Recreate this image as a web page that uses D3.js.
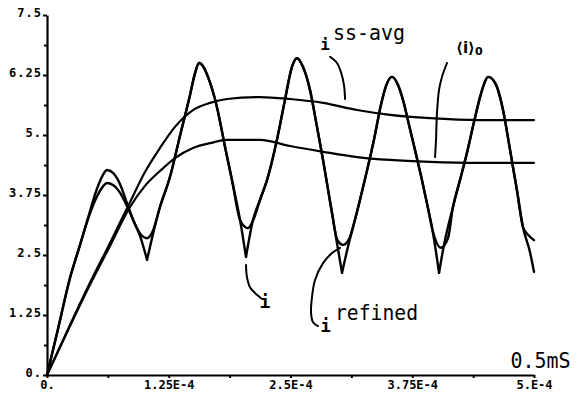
<!DOCTYPE html>
<html><head><meta charset="utf-8">
<script src="https://cdn.jsdelivr.net/npm/d3@7"></script>
<style>
html,body{margin:0;padding:0;background:#fff;}
svg{display:block;}
</style></head><body>
<svg id="chart" width="577" height="396"></svg>
<script>
// ---- axes (time in microseconds) ----
const xTickValues = [0, 125, 250, 375, 500];
const xTickLabels = ["0.", "1.25E-4", "2.5E-4", "3.75E-4", "5.E-4"];
const xMinorTicks = [62.5, 187.5, 312.5, 437.5];
const yTickValues = [0, 1.25, 2.5, 3.75, 5, 6.25, 7.5];
const yTickLabels = ["0.", "1.25", "2.5", "3.75", "5.", "6.25", "7.5"];
const yMinorTicks = [0.625, 1.875, 3.125, 4.375, 5.625, 6.875];

// ---- series: i (exact) ----
const tI = [0,11.3,23.6,33.9,42.1,51.3,57.5,61.6,67.8,74.9,82.1,89.3,95.5,102.7,107.8,116.0,126.3,136.5,146.8,152.0,156.1,161.2,165.3,174.5,182.8,189.9,198.2,204.3,211.5,218.7,225.9,236.1,244.3,251.5,256.7,262.8,270.0,277.2,283.4,292.6,297.7,302.9,309.0,318.3,327.5,335.7,342.9,348.0,354.2,360.4,365.5,371.7,377.8,384.0,390.1,396.3,402.5,407.6,416.8,424.0,431.2,438.4,444.6,448.7,452.8,457.9,462.0,468.2,475.4,482.5,488.7,495.9,500.0];
const vI = [0,0.96,2.02,2.71,3.27,3.88,4.17,4.27,4.21,3.98,3.58,3.19,2.90,2.40,2.85,3.50,4.13,4.98,5.83,6.29,6.50,6.40,6.21,5.58,4.75,4.06,3.23,2.46,3.23,3.65,4.06,4.90,5.73,6.42,6.60,6.42,5.94,5.17,4.48,3.38,2.75,2.13,2.67,3.40,4.17,4.90,5.63,6.02,6.21,6.04,5.73,5.21,4.69,4.15,3.58,2.96,2.13,2.71,3.50,4.06,4.63,5.27,5.79,6.06,6.21,6.15,6.00,5.52,4.69,3.85,3.08,2.56,2.15];

// ---- series: i refined ----
const tR = [0,11.3,23.6,33.9,42.1,51.3,57.5,61.6,67.8,74.9,82.1,89.3,95.5,102.7,107.8,116.0,126.3,136.5,146.8,152.0,156.1,161.2,165.3,174.5,182.8,189.9,198.2,206.3,212.6,218.7,225.9,236.1,244.3,251.5,256.7,262.8,270.0,277.2,283.4,292.6,297.7,303.9,310.1,318.3,327.5,335.7,342.9,348.0,354.2,360.4,365.5,371.7,377.8,384.0,390.1,396.3,404.5,411.7,416.8,424.0,431.2,438.4,444.6,448.7,452.8,457.9,462.0,468.2,475.4,482.5,488.7,494.9,500.0];
const vR = [0,0.96,2.02,2.71,3.25,3.72,3.93,4.00,3.96,3.80,3.52,3.19,2.95,2.85,2.96,3.50,4.13,4.98,5.83,6.29,6.50,6.40,6.21,5.58,4.75,4.06,3.23,3.06,3.27,3.65,4.06,4.90,5.73,6.42,6.60,6.42,5.94,5.17,4.48,3.38,2.83,2.71,2.83,3.40,4.17,4.90,5.63,6.02,6.21,6.04,5.73,5.21,4.69,4.15,3.58,2.98,2.65,2.85,3.50,4.06,4.63,5.27,5.79,6.06,6.21,6.15,6.00,5.52,4.69,3.85,3.08,2.90,2.81];

// ---- series: averaged models ----
const tAvg = [0,23.6,44.1,64.7,85.2,100.6,116.0,131.4,149.9,167.4,184.8,218.7,249.5,283.4,318.3,352.2,393.2,444.6,500];
const vSSAvg = [0,1.04,1.92,2.75,3.60,4.23,4.73,5.17,5.52,5.67,5.75,5.79,5.75,5.67,5.52,5.42,5.35,5.31,5.31];
const vAvg0 = [0,1.02,1.88,2.69,3.50,3.94,4.25,4.52,4.73,4.83,4.90,4.90,4.77,4.65,4.54,4.48,4.44,4.42,4.42];

// ---- annotation leader lines (time µs, value) ----
const leadSS = [[290.6,6.63],[297.7,6.50],[301.8,6.31],[304.9,6.04],[306.0,5.75]];
const leadAvg0 = [[410.7,6.50],[405.5,6.21],[402.5,5.94],[400.4,5.46],[399.4,4.90],[398.4,4.54]];
const leadI = [[204.3,2.29],[205.3,2.04],[208.4,1.83],[215.6,1.67],[219.7,1.60]];
const leadRef = [[300.8,2.65],[292.6,2.54],[283.4,2.33],[275.2,1.98],[272.1,1.63],[271.1,1.29],[273.1,1.10],[278.2,1.02]];

const svg = d3.select("#chart");
const x = d3.scaleLinear().domain([0, 500]).range([47, 534]);
const y = d3.scaleLinear().domain([0, 7.5]).range([375, 15]);
const mono = "'DejaVu Sans Mono', 'Liberation Mono', monospace";

// axes
const yAxis = svg.append("g").attr("transform", `translate(${x(0)},0)`)
  .call(d3.axisLeft(y).tickValues(yTickValues).tickFormat((d,i)=>yTickLabels[i]).tickSize(4).tickSizeOuter(0).tickPadding(1));
yAxis.select(".domain").attr("stroke", "#000").attr("stroke-width", 2.2);
yAxis.selectAll(".tick line").attr("stroke", "#000").attr("stroke-width", 2);
yAxis.selectAll(".tick text").attr("dy", 1).attr("font-family", mono).attr("font-weight", "bold")
  .attr("font-size", 12).attr("letter-spacing", 1).attr("fill", "#000");
svg.append("g").attr("transform", `translate(${x(0)},0)`)
  .call(d3.axisLeft(y).tickValues(yMinorTicks).tickFormat("").tickSize(3).tickSizeOuter(0))
  .call(g => { g.select(".domain").remove(); g.selectAll("line").attr("stroke", "#000").attr("stroke-width", 2); });

const xAxis = svg.append("g").attr("transform", `translate(0,${y(0)})`)
  .call(d3.axisBottom(x).tickValues(xTickValues).tickFormat((d,i)=>xTickLabels[i]).tickSize(3).tickSizeOuter(0).tickPadding(2));
xAxis.select(".domain").attr("stroke", "#000").attr("stroke-width", 2.2);
xAxis.selectAll(".tick line").attr("stroke", "#000").attr("stroke-width", 2);
xAxis.selectAll(".tick text").attr("font-family", mono).attr("font-weight", "bold")
  .attr("font-size", 12).attr("fill", "#000");
svg.append("g").attr("transform", `translate(0,${y(0)})`)
  .call(d3.axisBottom(x).tickValues(xMinorTicks).tickFormat("").tickSize(3).tickSizeOuter(0))
  .call(g => { g.select(".domain").remove(); g.selectAll("line").attr("stroke", "#000").attr("stroke-width", 2); });

// curves
const line = d3.line().x(d => x(d[0])).y(d => y(d[1])).curve(d3.curveMonotoneX);
const zip = (t, v) => t.map((tt, k) => [tt, v[k]]);

function drawPath(pts, w) {
  svg.append("path").attr("d", line(pts)).attr("fill", "none").attr("stroke", "#000")
    .attr("stroke-width", w).attr("stroke-linejoin", "round").attr("stroke-linecap", "round");
}

drawPath(zip(tAvg, vSSAvg), 2.2);
drawPath(zip(tAvg, vAvg0), 2.2);
drawPath(zip(tR, vR), 2.4);

// i: sharp corners at the troughs -> split into pieces at local minima
const ptsI = zip(tI, vI);
let seg = [ptsI[0]];
for (let k = 1; k < ptsI.length; k++) {
  seg.push(ptsI[k]);
  if (k < ptsI.length - 1 && ptsI[k][1] < ptsI[k-1][1] && ptsI[k][1] < ptsI[k+1][1]) {
    drawPath(seg, 2.4);
    seg = [ptsI[k]];
  }
}
drawPath(seg, 2.4);

// leader lines
const lead = d3.line().x(d => x(d[0])).y(d => y(d[1])).curve(d3.curveCatmullRom);
[leadSS, leadAvg0, leadI, leadRef].forEach(L => {
  svg.append("path").attr("d", lead(L)).attr("fill", "none").attr("stroke", "#000")
    .attr("stroke-width", 2).attr("stroke-linecap", "round");
});

// labels
function txt(t, v, s, size, opts = {}) {
  const e = svg.append("text").attr("x", x(t)).attr("y", y(v)).text(s)
    .attr("font-family", opts.family || mono).attr("font-size", size).attr("fill", "#000")
    .attr("font-weight", opts.weight || "normal").attr("text-anchor", opts.anchor || "start");
  if (opts.len) e.attr("textLength", opts.len).attr("lengthAdjust", "spacingAndGlyphs");
  return e;
}
txt(285.4, 6.77, "i", 16, {anchor: "middle", weight: "bold"});
txt(293.6, 6.98, "ss-avg", 21, {len: 72});
const a0 = svg.append("text").attr("x", x(420)).attr("y", y(6.71))
  .attr("font-family", "'DejaVu Sans', sans-serif").attr("font-weight", "bold").attr("fill", "#000");
a0.append("tspan").attr("font-size", 15).text("⟨i⟩");
a0.append("tspan").attr("font-size", 11).attr("dy", 2).text("0");
txt(223.8, 1.40, "i", 18, {anchor: "middle", weight: "bold"});
txt(286.0, 0.90, "i", 17, {anchor: "middle", weight: "bold"});
txt(295.7, 1.15, "refined", 21, {len: 83});
txt(476.0, 0.146, "0.5mS", 21, {len: 60});
</script>
</body></html>
